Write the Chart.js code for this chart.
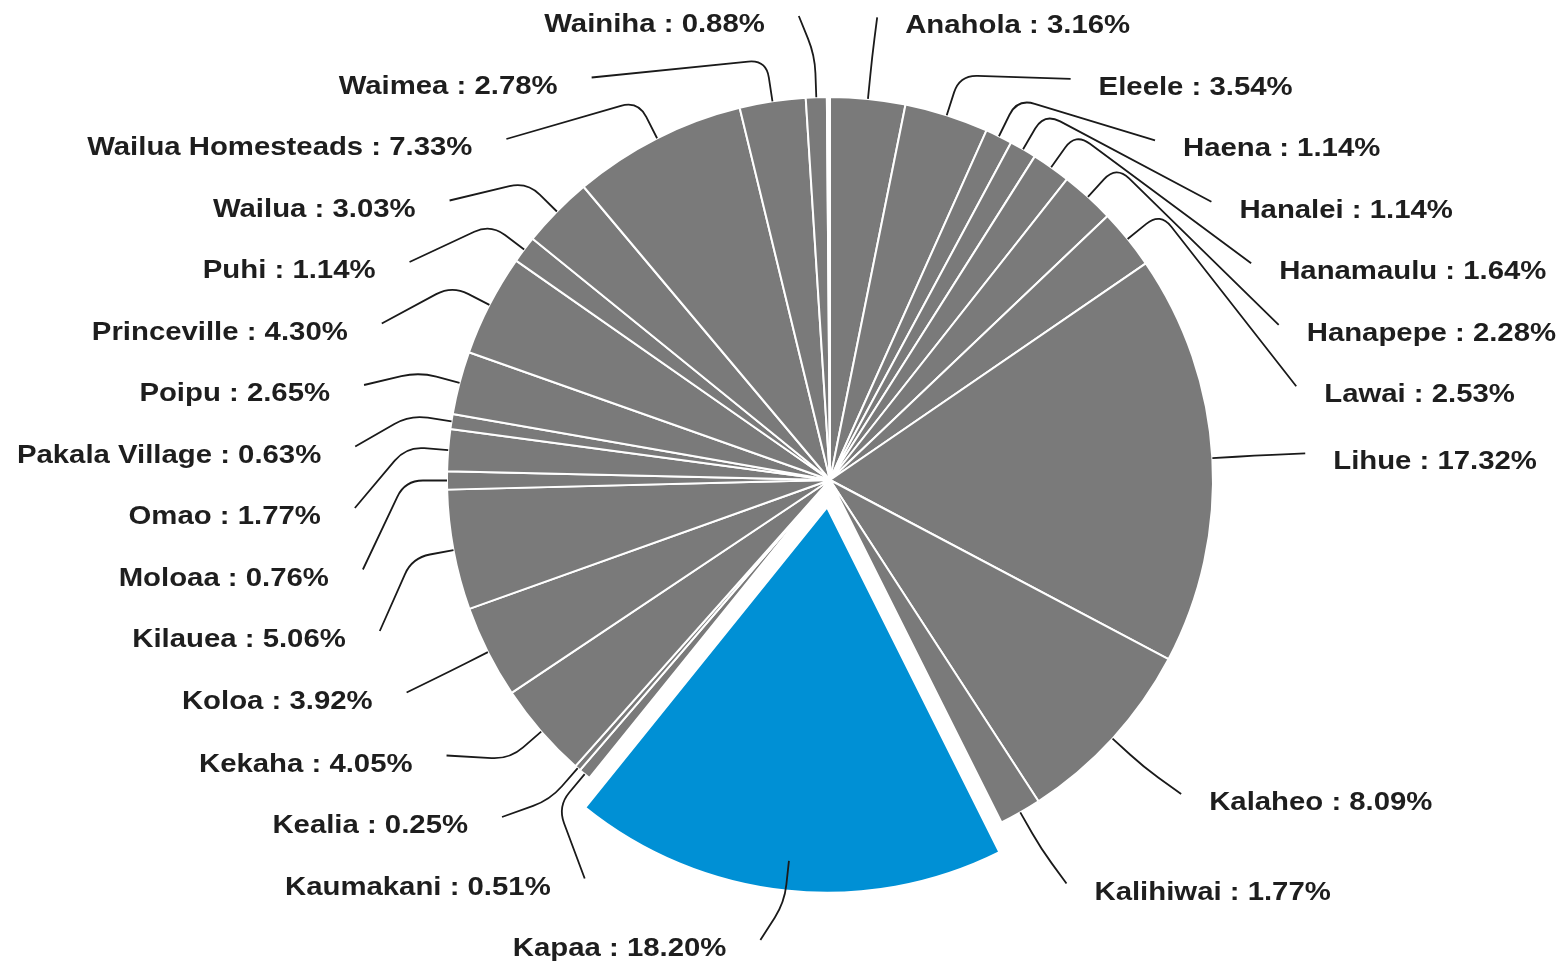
<!DOCTYPE html>
<html>
<head>
<meta charset="utf-8">
<title>Kauai towns</title>
<script src="https://cdn.jsdelivr.net/npm/chart.js@4.4.1/dist/chart.umd.min.js"></script>
<style>
  body { margin: 0; background: #fff; }
  #wrap { width: 1562px; height: 964px; }
</style>
</head>
<body>
<div id="wrap"><canvas id="townChart"></canvas></div>
<script>
// Slices, clockwise from 12 o'clock
const towns = [
  'Anahola', 'Eleele', 'Haena', 'Hanalei', 'Hanamaulu', 'Hanapepe', 'Lawai',
  'Lihue', 'Kalaheo', 'Kalihiwai', 'Kapaa', 'Kaumakani', 'Kealia', 'Kekaha',
  'Koloa', 'Kilauea', 'Moloaa', 'Omao', 'Pakala Village', 'Poipu',
  'Princeville', 'Puhi', 'Wailua', 'Wailua Homesteads', 'Waimea', 'Wainiha',
  'Unlisted'
];
const shares = [
  3.16, 3.54, 1.14, 1.14, 1.64, 2.28, 2.53,
  17.32, 8.09, 1.77, 18.20, 0.51, 0.25, 4.05,
  3.92, 5.06, 0.76, 1.77, 0.63, 2.65,
  4.30, 1.14, 3.03, 7.33, 2.78, 0.88,
  0.13
];
const highlightTown = 'Kapaa';
const unlabeledTown = 'Unlisted';

const grey = '#7a7a7a';
const blue = '#0090d5';

const sliceColors = towns.map(t => t === highlightTown ? blue : (t === unlabeledTown ? '#ffffff' : grey));
// chart.js v4 moves an arc by roughly offset/4, so 110 gives ~30px
const sliceOffsets = towns.map(t => t === highlightTown ? 110 : 0);

// Outside labels with elbow leader lines
const outLabels = {
  id: 'outLabels',
  afterDatasetsDraw(chart) {
    const ctx = chart.ctx;
    const arcs = chart.getDatasetMeta(0).data;
    const cx = arcs[0].x;
    const cy = arcs[0].y;
    const r = arcs[0].outerRadius;
    const ex = cx, ey = cy, rx = 476, ry = 465; // ellipse where the lines end
    const left = [], right = [];

    arcs.forEach((arc, i) => {
      if (towns[i] === unlabeledTown) return;
      const a = (arc.startAngle + arc.endAngle) / 2;
      const item = { i, a, y: ey + Math.sin(a) * ry };
      if (Math.cos(a) >= 0) right.push(item); else left.push(item);
    });

    function spread(items, top, bottom, gap) {
      items.sort((p, q) => p.y - q.y);
      for (let k = 0; k < items.length; k++) {
        const min = k === 0 ? top : items[k - 1].y + gap;
        items[k].y = Math.max(items[k].y, min);
      }
      for (let k = items.length - 1; k >= 0; k--) {
        const max = k === items.length - 1 ? bottom : items[k + 1].y - gap;
        items[k].y = Math.min(items[k].y, max);
      }
    }
    spread(left, 16, 940, 61.5);
    spread(right, 16, 940, 61.5);

    ctx.save();
    ctx.font = 'bold 25.5px "Liberation Sans", Arial, sans-serif';
    ctx.textBaseline = 'alphabetic';

    function draw(item, side) {
      const a = item.a;
      const p0 = { x: cx + Math.cos(a) * r, y: cy + Math.sin(a) * r };
      const knee = { x: cx + Math.cos(a) * (r + 42), y: cy + Math.sin(a) * (r + 42) };
      const dy = item.y - ey;
      const dx = rx * Math.sqrt(Math.max(0, 1 - (dy / ry) * (dy / ry)));
      const end = { x: ex + side * dx, y: item.y };

      // rounded corner at the knee
      const l1 = Math.hypot(knee.x - p0.x, knee.y - p0.y);
      const l2 = Math.hypot(end.x - knee.x, end.y - knee.y);
      const d = Math.min(18, l1 * 0.5, l2 * 0.5);
      const pa = { x: knee.x - (knee.x - p0.x) / l1 * d, y: knee.y - (knee.y - p0.y) / l1 * d };
      const pb = { x: knee.x + (end.x - knee.x) / l2 * d, y: knee.y + (end.y - knee.y) / l2 * d };

      ctx.beginPath();
      ctx.moveTo(p0.x, p0.y);
      ctx.lineTo(pa.x, pa.y);
      ctx.quadraticCurveTo(knee.x, knee.y, pb.x, pb.y);
      ctx.lineTo(end.x, end.y);
      ctx.strokeStyle = '#1a1a1a';
      ctx.lineWidth = 1.8;
      ctx.stroke();

      const text = towns[item.i] + ' : ' + shares[item.i].toFixed(2) + '%';
      ctx.save();
      ctx.translate(side > 0 ? end.x + 28 : end.x - 34, end.y + 16);
      ctx.scale(1.15, 1);
      ctx.textAlign = side > 0 ? 'left' : 'right';
      ctx.fillStyle = '#1e1e1e';
      ctx.fillText(text, 0, 0);
      ctx.restore();
    }

    right.forEach(it => draw(it, 1));
    left.forEach(it => draw(it, -1));
    ctx.restore();
  }
};

new Chart(document.getElementById('townChart'), {
  type: 'pie',
  data: {
    labels: towns,
    datasets: [{
      data: shares,
      backgroundColor: sliceColors,
      borderColor: '#ffffff',
      borderWidth: 2,
      offset: sliceOffsets,
      radius: 383
    }]
  },
  options: {
    responsive: true,
    maintainAspectRatio: false,
    animation: false,
    layout: { padding: { left: 198, right: 100, top: 96, bottom: 100 } },
    plugins: {
      legend: { display: false },
      tooltip: { enabled: false }
    }
  },
  plugins: [outLabels]
});
</script>
</body>
</html>
